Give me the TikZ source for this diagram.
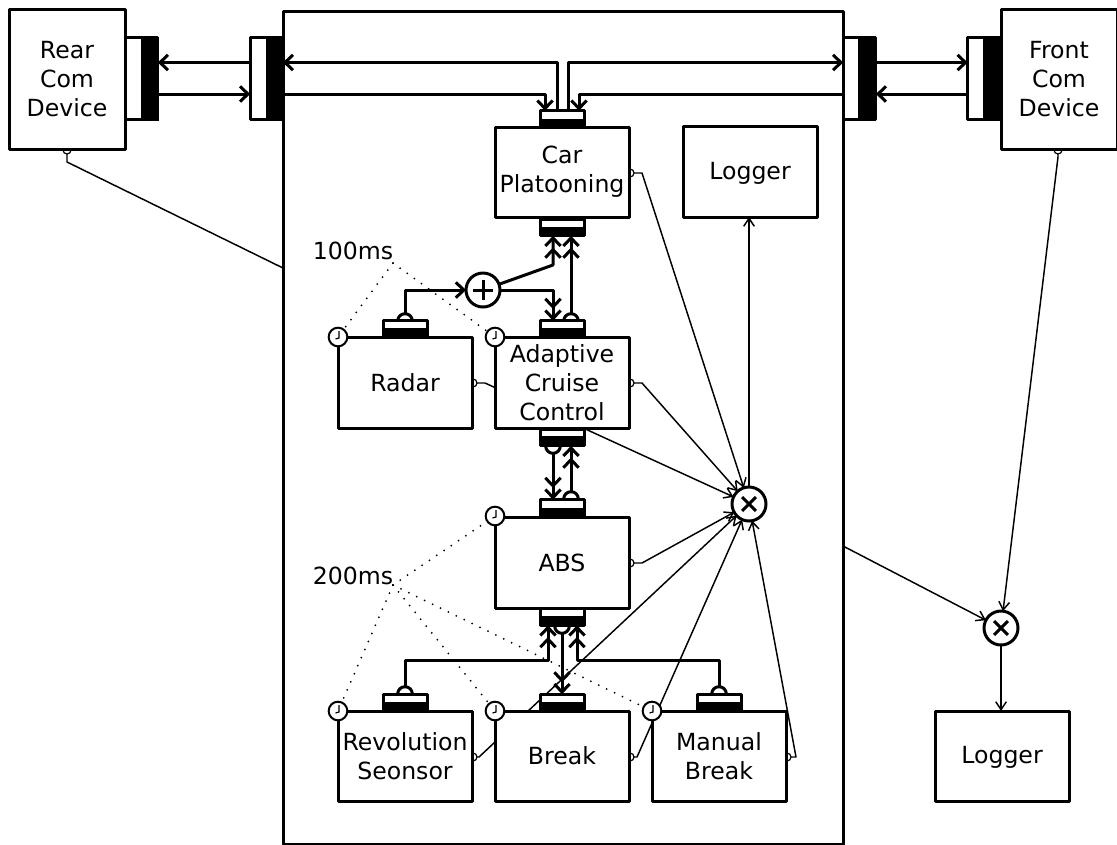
\documentclass[tikz,border=0pt]{standalone}
\usepackage{fontspec}
\setmainfont{DejaVu Sans}
\usetikzlibrary{arrows.meta}
\tikzset{
  px/.style={x=0.75pt,y=-0.75pt},
  basebox/.style={draw,fill=white,line width=2.25pt,line join=round,inner sep=0pt,outer sep=0pt,align=center,font=\fontsize{17.7pt}{21.7pt}\selectfont},
  compbox/.style={basebox,minimum width=100.5pt,minimum height=67.5pt},
  combox/.style={basebox,minimum width=87pt,minimum height=105pt},
  porttop/.style={draw,fill=white,line width=2.25pt,line join=round,inner sep=0pt,outer sep=0pt,minimum width=33pt,minimum height=12.5pt},
  portblk/.style={draw,fill=black,line width=1pt,inner sep=0pt,outer sep=0pt,minimum width=33pt,minimum height=6pt},
  portside/.style={draw,fill=white,line width=2.25pt,line join=round,inner sep=0pt,outer sep=0pt,minimum width=24.5pt,minimum height=62pt},
  portsideblk/.style={draw,fill=black,line width=1pt,inner sep=0pt,outer sep=0pt,minimum width=12.5pt,minimum height=62pt},
  bumpbig/.style={circle,draw,fill=white,line width=2.25pt,inner sep=0pt,outer sep=0pt,minimum size=11pt},
  bumpsmall/.style={circle,draw,fill=white,line width=0.9pt,inner sep=0pt,outer sep=0pt,minimum size=6pt},
  opnode/.style={circle,draw,fill=white,line width=2.25pt,inner sep=0pt,outer sep=0pt,minimum size=25.5pt},
  clocknode/.style={circle,draw,fill=white,line width=1.5pt,inner sep=0pt,outer sep=0pt,minimum size=14pt},
  thick line/.style={line width=2.25pt,line join=round},
  thin line/.style={line width=1.1pt,line join=round},
  tipsingle/.style={-{Straight Barb[length=6pt,width=11.5pt,line width=2.25pt]}},
  tipdouble/.style={-{Straight Barb[length=6pt,width=11.5pt,line width=2.25pt] Straight Barb[length=6pt,width=11.5pt,line width=2.25pt]}},
  tipthin/.style={-{Straight Barb[length=6pt,width=8pt,line width=1.1pt]}},
  dotline/.style={line width=1.5pt,line cap=round,dash pattern=on 0pt off 6.6pt},
  lbl/.style={inner sep=0pt,font=\fontsize{17.7pt}{21.7pt}\selectfont},
}
\begin{document}
\begin{tikzpicture}[px]
\useasboundingbox (0,0) rectangle (1117,844);
% main enclosure
\node[basebox,minimum width=420pt,minimum height=624.75pt] (main) at (563,427.5) {};
\coordinate (mainLeft) at (283,268);
\coordinate (mainRight) at (843,546);
% operators
\node[opnode] (plus) at (483,290) {};
\node[opnode] (times) at (749,504) {};
\node[opnode] (timesB) at (1001,628) {};
% small output bumps
\node[bumpsmall] (bRear) at (67,150) {};
\node[bumpsmall] (bFront) at (1058,150) {};
\node[bumpsmall] (bCar) at (630,173) {};
\node[bumpsmall] (bAcc) at (630,383) {};
\node[bumpsmall] (bRadar) at (473,383) {};
\node[bumpsmall] (bAbs) at (630,563) {};
\node[bumpsmall] (bRev) at (473,757) {};
\node[bumpsmall] (bBrk) at (630,757) {};
\node[bumpsmall] (bMan) at (787,757) {};
% thin data lines
\draw[thin line] (bRear.south) -- ++(0,8) -- (mainLeft);
\draw[thin line,tipthin] (bFront.south) -- ++(0,3) -- (timesB);
\draw[thin line,tipthin] (bCar.east) -- ++(8,0) -- (times);
\draw[thin line,tipthin] (bAcc.east) -- ++(8,0) -- (times);
\draw[thin line,tipthin] (bRadar.east) -- ++(8,0) -- (times);
\draw[thin line,tipthin] (bAbs.east) -- ++(8,0) -- (times);
\draw[thin line,tipthin] (bRev.east) -- ++(2,0) -- (times);
\draw[thin line,tipthin] (bBrk.east) -- ++(3,0) -- (times);
\draw[thin line,tipthin] (bMan.east) -- ++(5,0) -- (times);
\draw[thin line,tipthin] (mainRight) -- (timesB);
% component boxes
\node[compbox] (car) at (562,172) {Car\\Platooning};
\node[compbox,minimum height=68.25pt,text depth=1.5pt] (logA) at (750,171.5) {Logger};
\node[compbox,minimum height=68.25pt] (acc) at (562,382.5) {Adaptive\\Cruise\\Control};
\node[compbox,minimum height=68.25pt] (radar) at (405,382.5) {Radar};
\node[compbox,minimum height=68.25pt] (abs) at (562,562.5) {ABS};
\node[compbox] (rev) at (405,756) {Revolution\\Seonsor};
\node[compbox] (brk) at (562,756) {Break};
\node[compbox] (man) at (719,756) {Manual\\Break};
\node[compbox,text depth=1.5pt] (logB) at (1002,756) {Logger};
\node[combox,minimum height=105pt] (rear) at (67,79) {Rear\\Com\\Device};
\node[combox,minimum height=105pt] (front) at (1059,79) {Front\\Com\\Device};
\draw[thin line,tipthin] (times) -- (logA.south -| times);
\draw[thin line,tipthin] (timesB) -- (logB.north -| timesB);
% large bumps (half hidden by the ports)
\node[bumpbig] (bpRadar) at (405,321) {};
\node[bumpbig] (bpAcc) at (571,321) {};
\node[bumpbig] (bpAccD) at (553,446) {};
\node[bumpbig] (bpAbsU) at (571,499) {};
\node[bumpbig] (bpAbsD) at (562,626) {};
\node[bumpbig] (bpRev) at (405,694) {};
\node[bumpbig] (bpMan) at (719,694) {};
% top ports
\foreach \n/\x/\y in {pCarT/562/119, pCarB/562/227.5, pAccT/562/329, pAccB/562/437.5, pAbsT/562/508, pAbsB/562/617, pRadar/405/329, pRev/405/702.5, pBrk/562/702.5, pMan/719/702.5}{
  \node[porttop] (\n) at (\x,\y) {};
}
\node[portblk] at (562,123.5) {};
\node[portblk] at (562,231.5) {};
\node[portblk] at (562,333) {};
\node[portblk] at (562,441) {};
\node[portblk] at (562,512.5) {};
\node[portblk] at (562,621) {};
\node[portblk] at (405,333) {};
\node[portblk] at (405,706.5) {};
\node[portblk] at (562,706.5) {};
\node[portblk] at (719,706.5) {};
% side ports
\node[portside] (pRear) at (141.5,78.5) {};
\node[portsideblk] at (150,78.5) {};
\node[portside] (pMainL) at (266.5,78.5) {};
\node[portsideblk] at (275,78.5) {};
\node[portside] (pMainR) at (859.5,78.5) {};
\node[portsideblk] at (867,78.5) {};
\node[portside] (pFront) at (984,78.5) {};
\node[portsideblk] at (992,78.5) {};
% communication arrows
\coordinate (yA) at (0,62.5);
\coordinate (yB) at (0,94);
\draw[thick line,tipsingle] (pMainL.west |- yA) -- (pRear.east |- yA);
\draw[thick line,tipsingle] (pRear.east |- yB) -- (pMainL.west |- yB);
\draw[thick line,tipsingle] (pMainR.east |- yA) -- (pFront.west |- yA);
\draw[thick line,tipsingle] (pFront.west |- yB) -- (pMainR.east |- yB);
\coordinate (xA) at (557,0);
\coordinate (xB) at (568,0);
\coordinate (xC) at (545,0);
\coordinate (xD) at (579,0);
\draw[thick line,tipsingle] (pCarT.north -| xA) -- (xA |- yA) -- (pMainL.east |- yA);
\draw[thick line,tipsingle] (pCarT.north -| xB) -- (xB |- yA) -- (pMainR.west |- yA);
\draw[thick line,tipsingle] (pMainL.east |- yB) -- (xC |- yB) -- (xC |- pCarT.north);
\draw[thick line,tipsingle] (pMainR.west |- yB) -- (xD |- yB) -- (xD |- pCarT.north);
% bus connections
\coordinate (xE) at (553,0);
\coordinate (yC) at (0,290);
\coordinate (knee) at (553,265);
\draw[thick line,tipsingle] (bpRadar.north) -- (bpRadar.north |- yC) -- (plus.west);
\draw[thick line,tipdouble] (plus) -- (knee) -- (knee |- pCarB.south);
\draw[thick line,tipdouble] (plus.east) -- (xE |- yC) -- (xE |- pAccT.north);
\draw[thick line,tipdouble] (bpAcc.north) -- (bpAcc.north |- pCarB.south);
\draw[thick line,tipdouble] (bpAccD.south) -- (bpAccD.south |- pAbsT.north);
\draw[thick line,tipdouble] (bpAbsU.north) -- (bpAbsU.north |- pAccB.south);
\draw[thick line,tipdouble] (bpAbsD.south) -- (bpAbsD.south |- pBrk.north);
\coordinate (yD) at (0,660);
\coordinate (xF) at (548,0);
\coordinate (xG) at (577,0);
\draw[thick line,tipdouble] (bpRev.north) -- (bpRev.north |- yD) -- (xF |- yD) -- (xF |- pAbsB.south);
\draw[thick line,tipdouble] (bpMan.north) -- (bpMan.north |- yD) -- (xG |- yD) -- (xG |- pAbsB.south);
% operator glyphs
\draw[line width=2.25pt] ([xshift=-7.5pt]plus.center) -- ([xshift=7.5pt]plus.center);
\draw[line width=2.25pt] ([yshift=-7.5pt]plus.center) -- ([yshift=7.5pt]plus.center);
\foreach \n in {times,timesB}{
  \draw[line width=2.25pt] ([shift={(-5.2pt,-5.2pt)}]\n.center) -- ([shift={(5.2pt,5.2pt)}]\n.center);
  \draw[line width=2.25pt] ([shift={(-5.2pt,5.2pt)}]\n.center) -- ([shift={(5.2pt,-5.2pt)}]\n.center);
}
% labels and dotted timing lines
\node[lbl] (tA) at (353,251) {100ms};
\node[lbl] (tB) at (353,576) {200ms};
\coordinate (dA) at (393,263);
\coordinate (dB) at (393,585);
% clocks
\foreach \n/\x/\y in {cRadar/338/337, cAcc/495/337, cAbs/495/516, cRev/338/711, cBrk/495/711, cMan/652/711}{
  \node[clocknode] (\n) at (\x,\y) {};
  \draw[line width=0.9pt] (\n.center) ++(1,-6) -- ++(0,7) -- ++(-3.5,1);
}
\draw[dotline] (dA) -- (cRadar);
\draw[dotline] (dA) -- (cAcc);
\draw[dotline] (dB) -- (cAbs);
\draw[dotline] (dB) -- (cRev);
\draw[dotline] (dB) -- (cBrk);
\draw[dotline] (dB) -- (cMan);
\end{tikzpicture}
\end{document}
